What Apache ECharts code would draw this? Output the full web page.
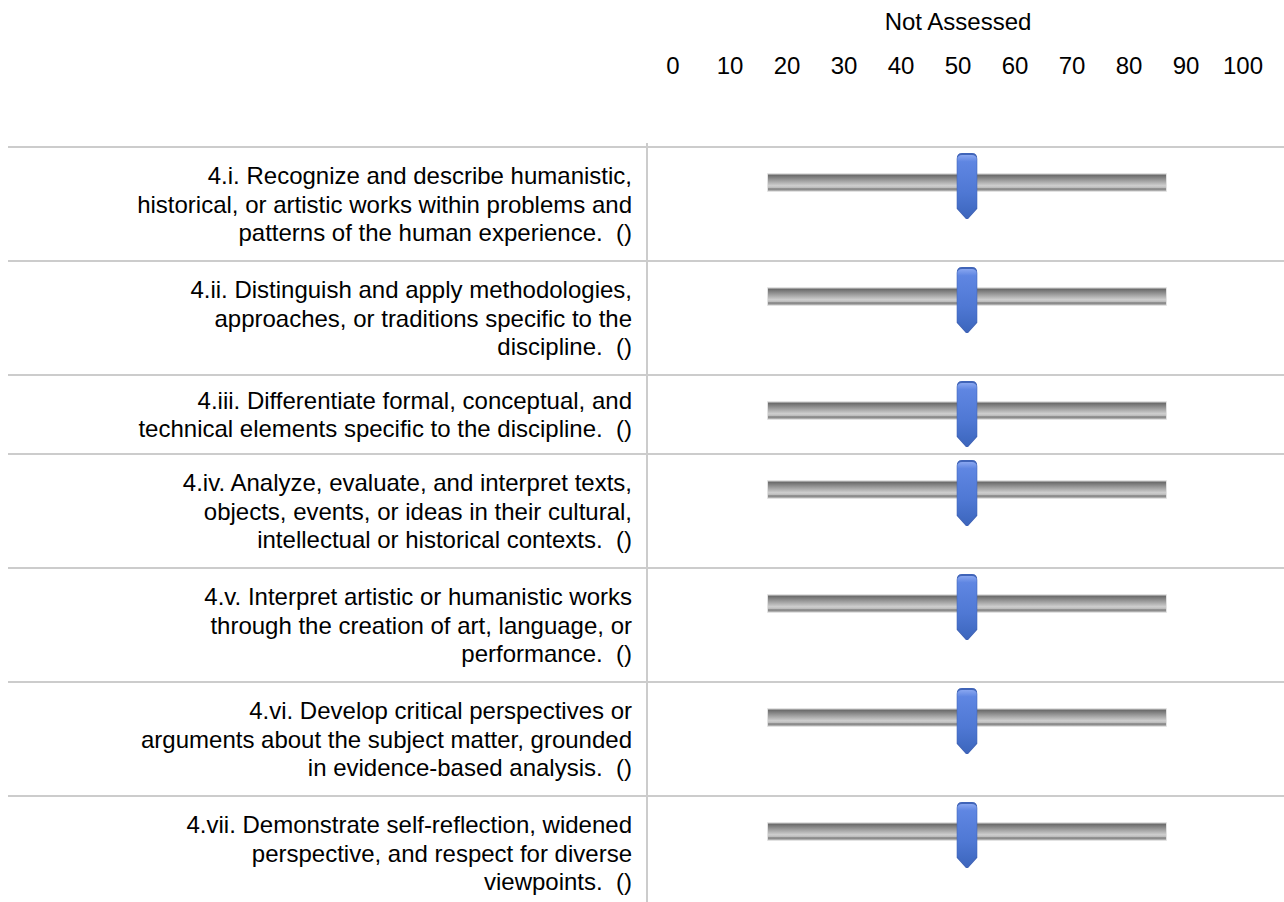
<!DOCTYPE html>
<html>
<head>
<meta charset="utf-8">
<title>Not Assessed</title>
<script src="https://cdn.jsdelivr.net/npm/echarts@6/dist/echarts.min.js"></script>
<style>
  html, body { margin: 0; padding: 0; background: #ffffff; }
  #chart { width: 1284px; height: 902px; }
</style>
</head>
<body>
<div id="chart"></div>
<script>
// 数据
var scaleTitle = 'Not Assessed';
var tickLabels = ['0', '10', '20', '30', '40', '50', '60', '70', '80', '90', '100'];
var scaleMin = 0;
var scaleMax = 100;
var categories = [
  '4.i. Recognize and describe humanistic,\nhistorical, or artistic works within problems and\npatterns of the human experience.  ()',
  '4.ii. Distinguish and apply methodologies,\napproaches, or traditions specific to the\ndiscipline.  ()',
  '4.iii. Differentiate formal, conceptual, and\ntechnical elements specific to the discipline.  ()',
  '4.iv. Analyze, evaluate, and interpret texts,\nobjects, events, or ideas in their cultural,\nintellectual or historical contexts.  ()',
  '4.v. Interpret artistic or humanistic works\nthrough the creation of art, language, or\nperformance.  ()',
  '4.vi. Develop critical perspectives or\narguments about the subject matter, grounded\nin evidence-based analysis.  ()',
  '4.vii. Demonstrate self-reflection, widened\nperspective, and respect for diverse\nviewpoints.  ()'
];
var sliderValues = [50, 50, 50, 50, 50, 50, 50];

// 样式
var fontFamily = '"Liberation Sans Narrow", "Arial Narrow", "Liberation Sans", Arial, sans-serif';
var fontSize = 24;
var lineColor = '#cccccc';
var firstRowTop = 147;
var trackLeft = 767;
var trackWidth = 400;

var trackColor = new echarts.graphic.LinearGradient(0, 0, 0, 1, [
  { offset: 0, color: '#e4e4e4' },
  { offset: 0.1, color: '#6c6c6c' },
  { offset: 0.35, color: '#979797' },
  { offset: 0.68, color: '#cfcfcf' },
  { offset: 0.78, color: '#bdbdbd' },
  { offset: 0.86, color: '#7c7c7c' },
  { offset: 0.94, color: '#a8a8a8' },
  { offset: 1, color: '#e8e8e8' }
]);
var handleColor = new echarts.graphic.LinearGradient(0, 0, 0, 1, [
  { offset: 0, color: '#8fabf2' },
  { offset: 0.12, color: '#5f86e2' },
  { offset: 0.6, color: '#4f78d4' },
  { offset: 1, color: '#3c66bd' }
]);
var handlePath = 'path://M0,5 C0,2 2,0 5,0 L15,0 C18,0 20,2 20,5 L20,54 L11,64 L9,64 L0,54 Z';

function lineCount(s) {
  return s.split('\n').length;
}

var option = {
  animation: false,
  backgroundColor: '#ffffff',
  textStyle: { fontFamily: fontFamily },
  grid: [],
  xAxis: [],
  yAxis: [],
  series: [],
  title: [],
  graphic: []
};

// 刻度轴
option.grid.push({ left: 673, width: 570, top: 85, height: 1 });
option.xAxis.push({
  type: 'category',
  gridIndex: 0,
  position: 'top',
  data: tickLabels,
  boundaryGap: false,
  name: scaleTitle,
  nameLocation: 'middle',
  nameGap: 52,
  nameTextStyle: { color: '#000000', fontSize: fontSize, fontFamily: fontFamily },
  axisLine: { show: false },
  axisTick: { show: false },
  axisLabel: { color: '#000000', fontSize: fontSize, fontFamily: fontFamily, margin: 8, interval: 0 }
});
option.yAxis.push({ type: 'value', gridIndex: 0, show: false });

// 每行一个滑块
var rowTop = firstRowTop;
for (var i = 0; i < categories.length; i++) {
  var rowH = 9 + 35 * lineCount(categories[i]);
  var g = i + 1;

  option.grid.push({ left: trackLeft, width: trackWidth, top: rowTop + 26, height: 19 });
  option.xAxis.push({ type: 'value', gridIndex: g, min: scaleMin, max: scaleMax, show: false });
  option.yAxis.push({ type: 'category', gridIndex: g, data: [categories[i]], show: false });

  option.series.push({
    type: 'bar',
    xAxisIndex: g,
    yAxisIndex: g,
    data: [scaleMax],
    barWidth: 19,
    silent: true,
    itemStyle: { color: trackColor, borderColor: '#e2e2e2', borderWidth: 1 }
  });
  option.series.push({
    type: 'scatter',
    xAxisIndex: g,
    yAxisIndex: g,
    data: [[sliderValues[i], 0]],
    symbol: handlePath,
    symbolSize: [20, 64],
    symbolOffset: [0, 3.5],
    silent: true,
    z: 5,
    itemStyle: { color: handleColor, borderColor: '#4064b8', borderWidth: 1, opacity: 1 }
  });

  option.title.push({
    text: categories[i],
    left: 632,
    top: rowTop + rowH / 2,
    padding: 0,
    textAlign: 'right',
    textVerticalAlign: 'middle',
    textStyle: { color: '#000000', fontSize: fontSize, fontWeight: 'normal', lineHeight: 28.5, fontFamily: fontFamily }
  });

  option.graphic.push({
    type: 'line',
    shape: { x1: 8, y1: rowTop, x2: 1284, y2: rowTop },
    style: { stroke: lineColor, lineWidth: 2 }
  });
  rowTop += rowH;
}
option.graphic.push({
  type: 'line',
  shape: { x1: 647, y1: firstRowTop - 4, x2: 647, y2: 902 },
  style: { stroke: lineColor, lineWidth: 2 }
});

var chart = echarts.init(document.getElementById('chart'), null, { renderer: 'svg' });
chart.setOption(option);
</script>
</body>
</html>
